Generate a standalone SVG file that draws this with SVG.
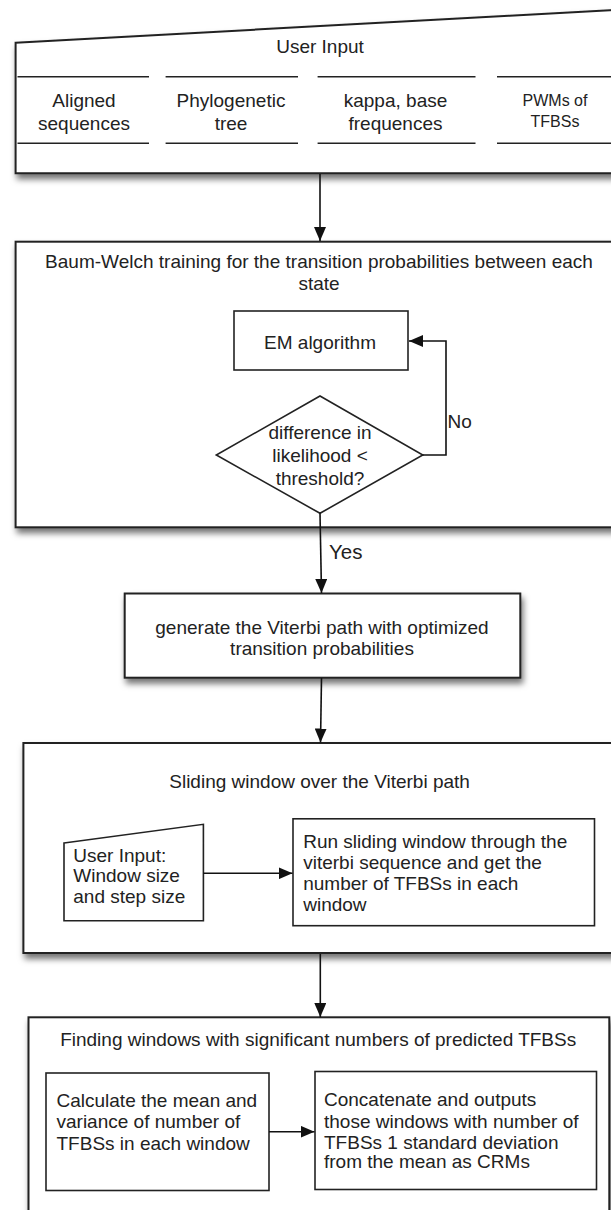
<svg xmlns="http://www.w3.org/2000/svg" width="611" height="1210" viewBox="0 0 611 1210">
<style>
text{font-family:"Liberation Sans",Arial,sans-serif;font-size:19px;fill:#222}
.c{text-anchor:middle}
.big{fill:#fff;stroke:#222;stroke-width:2}
.box{fill:#fff;stroke:#222;stroke-width:1.6}
.sep{stroke:#222;stroke-width:1.5}
.con{fill:none;stroke:#111;stroke-width:1.6}
</style>
<defs>
<filter id="sh" x="-10%" y="-10%" width="130%" height="140%">
<feDropShadow dx="2" dy="5" stdDeviation="3" flood-color="#000" flood-opacity="0.55"/>
</filter>
<marker id="a" viewBox="0 0 14 12" refX="14" refY="6" markerWidth="14" markerHeight="12" orient="auto" markerUnits="userSpaceOnUse">
<path d="M0,0 L14,6 L0,12 Z" fill="#111"/>
</marker>
</defs>

<g id="user-input">
<path class="big" filter="url(#sh)" d="M15.6,42.7 L625,9.5 L625,173.3 L15.6,173.3 Z"/>
<text class="c" x="320" y="53">User Input</text>
<line class="sep" x1="17.5" y1="76.7" x2="149" y2="76.7"/>
<line class="sep" x1="165.6" y1="76.7" x2="298" y2="76.7"/>
<line class="sep" x1="317.6" y1="76.7" x2="475.5" y2="76.7"/>
<line class="sep" x1="497" y1="76.7" x2="611" y2="76.7"/>
<line class="sep" x1="17.5" y1="143.3" x2="149" y2="143.3"/>
<line class="sep" x1="165.6" y1="143.3" x2="298" y2="143.3"/>
<line class="sep" x1="317.6" y1="143.3" x2="475.5" y2="143.3"/>
<line class="sep" x1="497" y1="143.3" x2="611" y2="143.3"/>
<text class="c" x="84" y="106.5">Aligned</text>
<text class="c" x="84" y="129.5">sequences</text>
<text class="c" x="231" y="106.5">Phylogenetic</text>
<text class="c" x="231" y="129.5">tree</text>
<text class="c" x="395.5" y="106.5">kappa, base</text>
<text class="c" x="395.5" y="129.5">frequences</text>
<text class="c" x="555" y="105.5" style="font-size:16px">PWMs of</text>
<text class="c" x="555" y="127" style="font-size:16px">TFBSs</text>
</g>

<g id="baum-welch">
<rect class="big" filter="url(#sh)" x="15.6" y="241.7" width="620" height="285.6"/>
<text class="c" x="319" y="268.2">Baum-Welch training for the transition probabilities between each</text>
<text class="c" x="319" y="289.8">state</text>
</g>

<g id="em-algorithm">
<rect class="box" x="234" y="311" width="174" height="59"/>
<text class="c" x="320" y="349.2">EM algorithm</text>
</g>

<g id="decision">
<polygon class="box" points="320,396 422.8,455 320,513.3 216.3,455"/>
<text class="c" x="320" y="439.2">difference in</text>
<text class="c" x="320" y="461.5">likelihood &lt;</text>
<text class="c" x="320" y="484.8">threshold?</text>
</g>

<g id="viterbi">
<rect class="big" filter="url(#sh)" x="124.7" y="593.5" width="395.6" height="84.2"/>
<text class="c" x="322" y="633.8">generate the Viterbi path with optimized</text>
<text class="c" x="322" y="654.8">transition probabilities</text>
</g>

<g id="sliding-window">
<rect class="big" filter="url(#sh)" x="23.4" y="743" width="620" height="210"/>
<text class="c" x="319.6" y="788.2">Sliding window over the Viterbi path</text>
</g>

<g id="window-input">
<path class="box" d="M64,843 L203.4,824.3 L203.4,920.7 L64,920.7 Z"/>
<text x="73.3" y="861.5">User Input:</text>
<text x="73.3" y="882.2">Window size</text>
<text x="73.3" y="903.2">and step size</text>
</g>

<g id="run-window">
<rect class="box" x="293" y="818.8" width="301.5" height="106.9"/>
<text x="303.2" y="848.2">Run sliding window through the</text>
<text x="303.2" y="869.2">viterbi sequence and get the</text>
<text x="303.2" y="889.8">number of TFBSs in each</text>
<text x="303.2" y="910.5">window</text>
</g>

<g id="finding-windows">
<rect class="big" filter="url(#sh)" x="28.5" y="1017.3" width="580.8" height="230"/>
<text class="c" x="318.2" y="1045.5">Finding windows with significant numbers of predicted TFBSs</text>
</g>

<g id="calculate">
<rect class="box" x="46" y="1073" width="223" height="117.5"/>
<text x="56.5" y="1107.2">Calculate the mean and</text>
<text x="56.5" y="1128.2">variance of number of</text>
<text x="56.5" y="1149.8">TFBSs in each window</text>
</g>

<g id="concatenate">
<rect class="box" x="315" y="1071.5" width="281.5" height="118"/>
<text x="324" y="1105.5">Concatenate and outputs</text>
<text x="324" y="1127.5">those windows with number of</text>
<text x="324" y="1149.2">TFBSs 1 standard deviation</text>
<text x="324" y="1168.2">from the mean as CRMs</text>
</g>

<g id="connectors">
<line class="con" x1="320" y1="174" x2="320" y2="241" marker-end="url(#a)"/>
<polyline class="con" points="422.8,455 446,455 446,341 409,341" marker-end="url(#a)"/>
<text x="447.5" y="427.5">No</text>
<line class="con" x1="320" y1="513.3" x2="321.5" y2="593" marker-end="url(#a)"/>
<text x="329" y="559" style="font-size:20.5px">Yes</text>
<line class="con" x1="321.5" y1="678" x2="320.5" y2="742.5" marker-end="url(#a)"/>
<line class="con" x1="203.4" y1="873.3" x2="292.5" y2="873.3" marker-end="url(#a)"/>
<line class="con" x1="320.3" y1="954" x2="320.3" y2="1017" marker-end="url(#a)"/>
<line class="con" x1="269" y1="1131.7" x2="314.5" y2="1131.7" marker-end="url(#a)"/>
</g>
</svg>
